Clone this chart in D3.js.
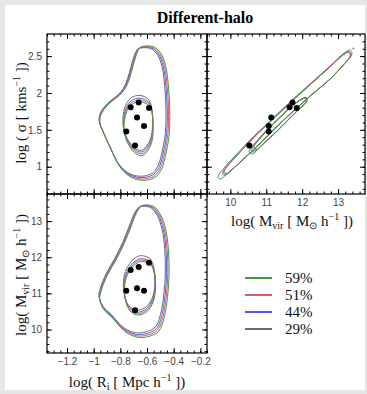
<!DOCTYPE html>
<html><head><meta charset="utf-8">
<script src="https://cdn.jsdelivr.net/npm/d3@7"></script>
<style>body{margin:0;background:#e6e6e6}svg{display:block}</style>
</head><body><svg id="c" width="367" height="394"></svg>
<script>
// ---------- data ----------
const levelNames = ["59%", "51%", "44%", "29%"];
const levelColors = ["#3c9e3c", "#e4546e", "#5858ee", "#6c6c6c"];

const rTicks = [-1.2, -1, -0.8, -0.6, -0.4, -0.2];
const rTickLabels = ["\u22121.2", "\u22121", "\u22120.8", "\u22120.6", "\u22120.4", "\u22120.2"];
const sigmaTicks = [1, 1.5, 2, 2.5];
const sigmaTickLabels = ["1", "1.5", "2", "2.5"];
const mTicks = [10, 11, 12, 13];
const mTickLabels = ["10", "11", "12", "13"];

// the seven haloes
const haloR = [-0.7225, -0.6625, -0.585, -0.675, -0.6225, -0.755, -0.69];
const haloSigma = [1.805, 1.872, 1.795, 1.669, 1.551, 1.479, 1.289];
const haloM = [11.65, 11.73, 11.85, 11.14, 11.07, 11.07, 10.53];

// contour rings (base shapes) [x, y]
const tlOuter = [[-0.632,2.62],[-0.565,2.61],[-0.515,2.53],[-0.478,2.36],[-0.458,2.09],[-0.448,1.77],[-0.453,1.45],[-0.473,1.23],[-0.508,1.0],[-0.548,0.90],[-0.615,0.855],[-0.69,0.865],[-0.753,0.92],[-0.815,1.04],[-0.878,1.27],[-0.928,1.47],[-0.958,1.63],[-0.94,1.75],[-0.878,1.88],[-0.815,1.97],[-0.773,2.06],[-0.74,2.20],[-0.715,2.36],[-0.69,2.51],[-0.665,2.60]];
const tlInner = [[-0.652,1.93],[-0.59,1.88],[-0.565,1.77],[-0.558,1.59],[-0.565,1.41],[-0.59,1.29],[-0.64,1.20],[-0.69,1.23],[-0.74,1.34],[-0.773,1.50],[-0.773,1.68],[-0.753,1.81],[-0.715,1.90]];
const blOuter = [[-0.6325,13.42],[-0.565,13.38],[-0.515,13.16],[-0.478,12.77],[-0.458,12.22],[-0.453,11.57],[-0.465,10.93],[-0.49,10.38],[-0.528,10.03],[-0.59,9.90],[-0.665,9.86],[-0.728,9.92],[-0.79,10.07],[-0.865,10.38],[-0.928,10.61],[-0.958,10.88],[-0.948,11.11],[-0.903,11.53],[-0.84,11.94],[-0.778,12.40],[-0.728,12.86],[-0.69,13.21],[-0.658,13.38]];
const blInner = [[-0.64,11.96],[-0.578,11.88],[-0.548,11.62],[-0.54,11.21],[-0.558,10.84],[-0.603,10.58],[-0.665,10.48],[-0.723,10.56],[-0.758,10.79],[-0.773,11.16],[-0.758,11.53],[-0.715,11.80],[-0.678,11.92]];
const trOuter = [[9.656,0.861],[9.823,0.983],[10.130,1.145],[10.547,1.362],[11.104,1.620],[11.661,1.878],[12.218,2.122],[12.775,2.366],[13.137,2.529],[13.332,2.583],[13.388,2.529],[13.193,2.407],[12.775,2.190],[12.218,1.959],[11.661,1.715],[11.104,1.457],[10.603,1.213],[10.213,1.037],[9.879,0.888],[9.712,0.833]];
const trInner = [[10.575,1.227],[10.770,1.362],[11.049,1.512],[11.383,1.674],[11.717,1.824],[11.996,1.918],[12.107,1.932],[12.107,1.878],[11.884,1.769],[11.550,1.607],[11.216,1.444],[10.882,1.295],[10.659,1.200]];
const trIslands = [[13.426, 2.605], [10.60, 1.205]];

// per-level adjustments of the rings: [scale, dx, dy] for 59%, 51%, 44%, 29%
const tlOuterAdj = [[1.03,0.012,-0.01],[1.015,0.006,-0.005],[1.0,0,0],[0.985,-0.006,0.005]];
const tlInnerAdj = [[1,0.004,-0.05],[1,0.002,-0.025],[1,0,0],[1.02,-0.002,0.03]];
const blOuterAdj = [[1.03,0.012,-0.03],[1.015,0.006,-0.015],[1.0,0,0],[0.985,-0.006,0.02]];
const blInnerAdj = [[1,0.004,-0.08],[1,0.002,-0.04],[1,0,0],[1.02,-0.002,0.07]];
const trOuterAdj = [[1.0,0,0],[0.96,0.05,0.015],[0.95,0.06,0.02],[0.94,0.07,0.025]];
const trInnerAdj = [[1.04,-0.02,-0.01],[1.0,0,0],[0.97,0.02,0.01],[0.96,0.05,0.02]];

// ---------- drawing ----------
const svg = d3.select("#c");
svg.append("rect").attr("x",0).attr("y",0).attr("width",367).attr("height",394).attr("fill","#e6e6e6");
svg.append("rect").attr("x",5).attr("y",5).attr("width",360).attr("height",385).attr("fill","#ffffff");

const L = 47, M = 207, R = 365, T = 34, H = 194, B = 353;
const xR = d3.scaleLinear().domain([-1.35, -0.15]).range([L, M]);
const ySig = d3.scaleLinear().domain([0.63, 2.8]).range([H, T]);
const xM = d3.scaleLinear().domain([9.35, 13.75]).range([M, R]);
const yM = d3.scaleLinear().domain([9.35, 13.75]).range([B, H]);

svg.append("text").attr("x", 205).attr("y", 23).attr("text-anchor","middle")
  .attr("font-family","Liberation Serif, serif").attr("font-weight","bold").attr("font-size",16)
  .text("Different-halo");

function frame(xs, ys, xMaj, xMin, yMaj, yMin, xLab, yLab) {
  const g = svg.append("g");
  const [x0, x1] = xs.range(), [y0, y1] = ys.range(); // y0 bottom, y1 top
  const style = sel => { sel.select(".domain").remove(); sel.selectAll("line").attr("stroke","#000").attr("stroke-width",1);
    sel.selectAll("text").attr("font-family","Liberation Sans, Arial, sans-serif").attr("font-size",10).attr("fill","#444"); };
  const mk = (axisFn, scale, vals, size, labels, tx, ty) => {
    const a = axisFn(scale).tickValues(vals).tickSize(-size).tickPadding(5)
      .tickFormat(labels ? ((d, i) => labels[i]) : "");
    g.append("g").attr("transform", `translate(${tx},${ty})`).call(a).call(style);
  };
  mk(d3.axisBottom, xs, xMaj, 5, xLab, 0, y0);
  mk(d3.axisBottom, xs, xMin, 2.5, null, 0, y0);
  mk(d3.axisTop, xs, xMaj, 5, null, 0, y1);
  mk(d3.axisTop, xs, xMin, 2.5, null, 0, y1);
  mk(d3.axisLeft, ys, yMaj, 5, yLab, x0, 0);
  mk(d3.axisLeft, ys, yMin, 2.5, null, x0, 0);
  mk(d3.axisRight, ys, yMaj, 5, null, x1, 0);
  mk(d3.axisRight, ys, yMin, 2.5, null, x1, 0);
  g.append("rect").attr("x", x0).attr("y", y1).attr("width", x1 - x0).attr("height", y0 - y1)
    .attr("fill","none").attr("stroke","#000").attr("stroke-width",1.2);
}

const rMinor = d3.range(-1.35, -0.15, 0.05).map(v => +v.toFixed(2)).filter(v => v > -1.351);
const sMinor = d3.range(0.7, 2.8, 0.1).map(v => +v.toFixed(2));
const mMinor = d3.range(9.4, 13.75, 0.2).map(v => +v.toFixed(2));

function adjust(pts, a) {
  const cx = d3.mean(pts, p => p[0]), cy = d3.mean(pts, p => p[1]);
  return pts.map(p => [cx + a[0] * (p[0] - cx) + a[1], cy + a[0] * (p[1] - cy) + a[2]]);
}
function rings(xs, ys, ringList, clipId) {
  const [x0, x1] = xs.range(), [y0, y1] = ys.range();
  svg.append("clipPath").attr("id", clipId).append("rect")
    .attr("x", x0).attr("y", y1).attr("width", x1 - x0).attr("height", y0 - y1);
  const g = svg.append("g").attr("clip-path", `url(#${clipId})`);
  const line = d3.line().x(p => xs(p[0])).y(p => ys(p[1])).curve(d3.curveCatmullRomClosed.alpha(0.5));
  for (let i = levelNames.length - 1; i >= 0; i--) {
    ringList.forEach(([pts, adj]) => {
      g.append("path").attr("d", line(adjust(pts, adj[i]))).attr("fill","none")
        .attr("stroke", levelColors[i]).attr("stroke-width", 1);
    });
  }
  return g;
}

// contours
rings(xR, ySig, [[tlOuter, tlOuterAdj], [tlInner, tlInnerAdj]], "clipTL");
const gTR = rings(xM, ySig, [[trOuter, trOuterAdj], [trInner, trInnerAdj]], "clipTR");
gTR.selectAll("circle.isl").data(trIslands).join("circle").attr("class","isl")
  .attr("cx", d => xM(d[0])).attr("cy", d => ySig(d[1])).attr("r", 0.9).attr("fill", levelColors[0]);
rings(xR, yM, [[blOuter, blOuterAdj], [blInner, blInnerAdj]], "clipBL");

// haloes
const idx = d3.range(haloR.length);
svg.append("g").selectAll("circle").data(idx).join("circle")
  .attr("cx", i => xR(haloR[i])).attr("cy", i => ySig(haloSigma[i])).attr("r", 3).attr("fill","#000");
svg.append("g").selectAll("circle").data(idx).join("circle")
  .attr("cx", i => xM(haloM[i])).attr("cy", i => ySig(haloSigma[i])).attr("r", 3).attr("fill","#000");
svg.append("g").selectAll("circle").data(idx).join("circle")
  .attr("cx", i => xR(haloR[i])).attr("cy", i => yM(haloM[i])).attr("r", 3).attr("fill","#000");

// frames & axes
frame(xR, ySig, rTicks, rMinor, sigmaTicks, sMinor, null, sigmaTickLabels);
frame(xM, ySig, mTicks, mMinor, sigmaTicks, sMinor, mTickLabels, null);
frame(xR, yM, rTicks, rMinor, mTicks, mMinor, rTickLabels, mTickLabels);

// axis titles
function richText(x, y, rot, parts) {
  const t = svg.append("text").attr("text-anchor","middle")
    .attr("transform", `translate(${x},${y}) rotate(${rot})`)
    .attr("font-family","Liberation Serif, Times New Roman, serif").attr("font-size",15).attr("fill","#111");
  let shift = 0;
  parts.forEach(([s, kind]) => {
    const want = kind === "sub" ? 3 : kind === "sup" ? -6 : 0;
    const ts = t.append("tspan").attr("dy", want - shift).text(s);
    if (kind) ts.attr("font-size", 10);
    shift = want;
  });
}
richText(26, 113, -90, [["log ( \u03c3 [ kms"], ["\u22121","sup"], [" ])"]]);
richText(26, 275, -90, [["log( M"], ["vir","sub"], [" [ M"], ["\u2299","sub"], [" h"], ["\u22121","sup"], [" ])"]]);
richText(127, 387, 0, [["log( R"], ["i","sub"], [" [ Mpc h"], ["\u22121","sup"], [" ])"]]);
richText(292, 226, 0, [["log( M"], ["vir","sub"], [" [ M"], ["\u2299","sub"], [" h"], ["\u22121","sup"], [" ])"]]);

// legend
const legY = d3.scalePoint().domain(levelNames).range([278, 329]);
const lg = svg.append("g");
levelNames.forEach((n, i) => {
  lg.append("line").attr("x1", 245).attr("x2", 272).attr("y1", legY(n)).attr("y2", legY(n))
    .attr("stroke", levelColors[i]).attr("stroke-width", 2);
  lg.append("text").attr("x", 285).attr("y", legY(n)).attr("dy","0.35em")
    .attr("font-family","Liberation Serif, serif").attr("font-size",15).attr("fill","#111").text(n);
});
</script>
</body></html>
